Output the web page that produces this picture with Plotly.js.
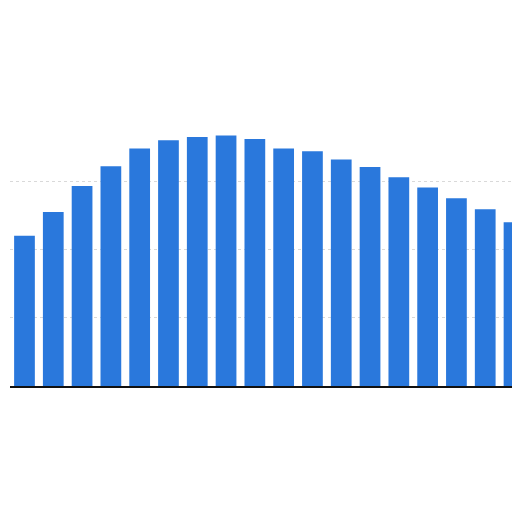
<!DOCTYPE html>
<html>
<head>
<meta charset="utf-8">
<script src="https://cdn.plot.ly/plotly-3.0.1.min.js"></script>
<style>html,body{margin:0;padding:0;background:#fff;}#chart{width:512px;height:512px;}</style>
</head>
<body>
<div id="chart"></div>
<script>
var categories = ["1","2","3","4","5","6","7","8","9","10","11","12","13","14","15","16","17","18"];
var values = [22.0, 25.5, 29.3, 32.2, 34.8, 36.0, 36.5, 36.7, 36.2, 34.8, 34.4, 33.2, 32.1, 30.6, 29.1, 27.5, 25.9, 24.0];

var trace = {
  type: "bar",
  x: categories.map(function(c, i){ return i; }),
  y: values,
  marker: {color: "#2a78dc"},
  hoverinfo: "none"
};

var layout = {
  width: 512,
  height: 512,
  margin: {l: 10, r: 0, t: 113, b: 126, pad: 0},
  paper_bgcolor: "#ffffff",
  plot_bgcolor: "#ffffff",
  showlegend: false,
  bargap: 0.28,
  xaxis: {
    range: [-0.503, 16.93],
    showticklabels: false,
    showgrid: false,
    zeroline: false,
    showline: true,
    linecolor: "#111111",
    linewidth: 1.5,
    ticks: ""
  },
  yaxis: {
    range: [0, 40],
    dtick: 10,
    showticklabels: false,
    showgrid: true,
    gridcolor: "#d9d9d9",
    griddash: "dot",
    gridwidth: 1,
    zeroline: false,
    showline: false,
    ticks: ""
  }
};

Plotly.newPlot("chart", [trace], layout, {displayModeBar: false, staticPlot: true});
</script>
</body>
</html>
